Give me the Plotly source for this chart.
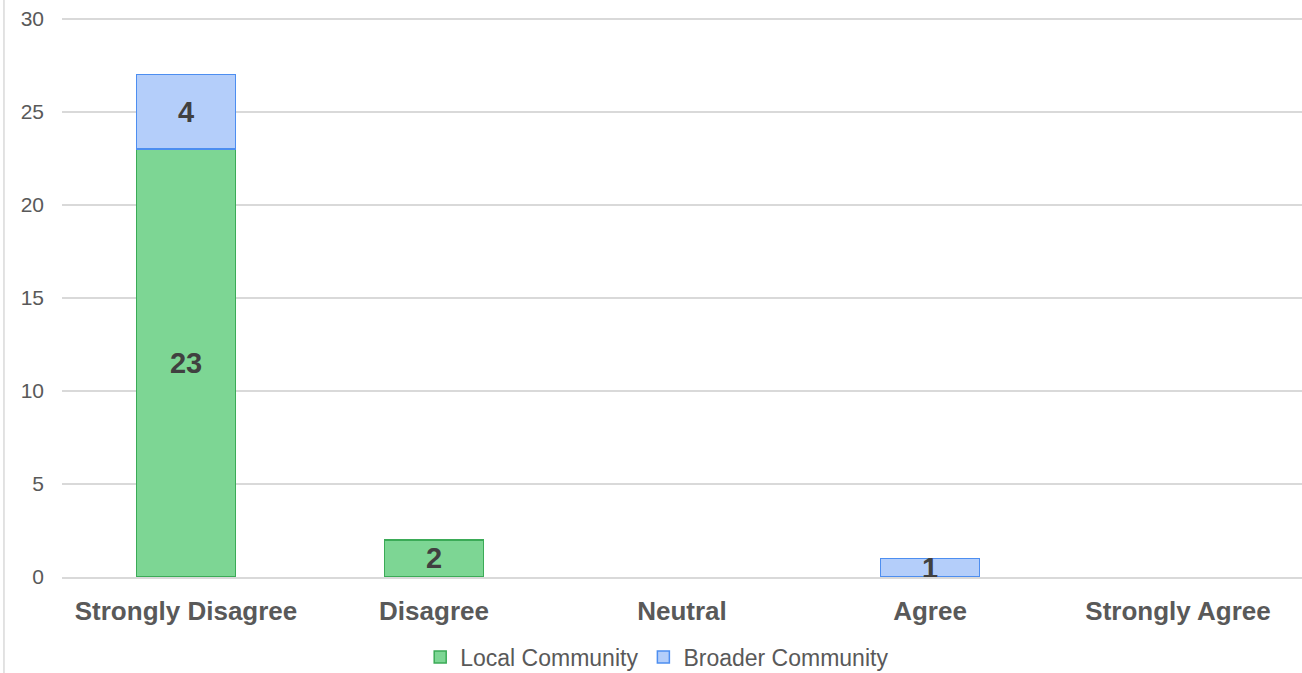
import plotly.graph_objects as go

categories = ["Strongly Disagree", "Disagree", "Neutral", "Agree", "Strongly Agree"]
local_community = [23, 2, 0, 0, 0]
broader_community = [4, 0, 0, 1, 0]
y_ticks = [0, 5, 10, 15, 20, 25, 30]

def nz(vals):
    return [v if v else None for v in vals]

def labels(vals):
    return [str(v) if v else "" for v in vals]

label_font = dict(family="Liberation Sans, Arial", size=29, color="#404040", weight="bold")

fig = go.Figure()
fig.add_trace(go.Bar(
    name="Local Community", x=categories, y=nz(local_community),
    text=labels(local_community), textposition="inside", insidetextanchor="middle",
    constraintext="none", textangle=0, textfont=label_font,
    marker=dict(color="#7dd694", line=dict(color="#3bab57", width=1.5)),
    cliponaxis=False,
))
fig.add_trace(go.Bar(
    name="Broader Community", x=categories, y=nz(broader_community),
    text=labels(broader_community), textposition="inside", insidetextanchor="middle",
    constraintext="none", textangle=0, textfont=label_font,
    marker=dict(color="#b4cefa", line=dict(color="#4d8ef0", width=1.5)),
    cliponaxis=False,
))

# plot height 564 px for 30.3 units -> 18.61 px/unit; 30 lands at y=19
fig.update_layout(
    barmode="stack",
    bargap=0.6,
    width=1302, height=673,
    margin=dict(l=62, r=0, t=13, b=96, autoexpand=False),
    paper_bgcolor="white", plot_bgcolor="white",
    font=dict(family="Liberation Sans, Arial", color="#595959"),
    showlegend=True,
    legend=dict(orientation="h", x=0.48, xanchor="center", y=-0.1418, yanchor="middle",
                font=dict(size=23, color="#595959"), traceorder="normal",
                itemwidth=30, bgcolor="rgba(0,0,0,0)"),
    xaxis=dict(tickfont=dict(size=26, color="#595959", weight="bold"),
               showgrid=False, showline=True, linecolor="#d9d9d9", linewidth=1.5,
               ticks="", ticklabelstandoff=10),
    yaxis=dict(range=[0, 30.3], tickvals=y_ticks, tickfont=dict(size=21, color="#595959"),
               showgrid=True, gridcolor="#d9d9d9", gridwidth=1.5, zeroline=False,
               ticks="", ticklabelstandoff=17),
    shapes=[dict(type="line", xref="paper", yref="paper", x0=-0.0468, x1=-0.0468,
                 y0=-1, y1=1.2, line=dict(color="#d9d9d9", width=1.5))],
)

fig.write_html("out.html", config={"displayModeBar": False},
               post_script="document.body.style.margin='0';document.body.style.overflow='hidden';")
